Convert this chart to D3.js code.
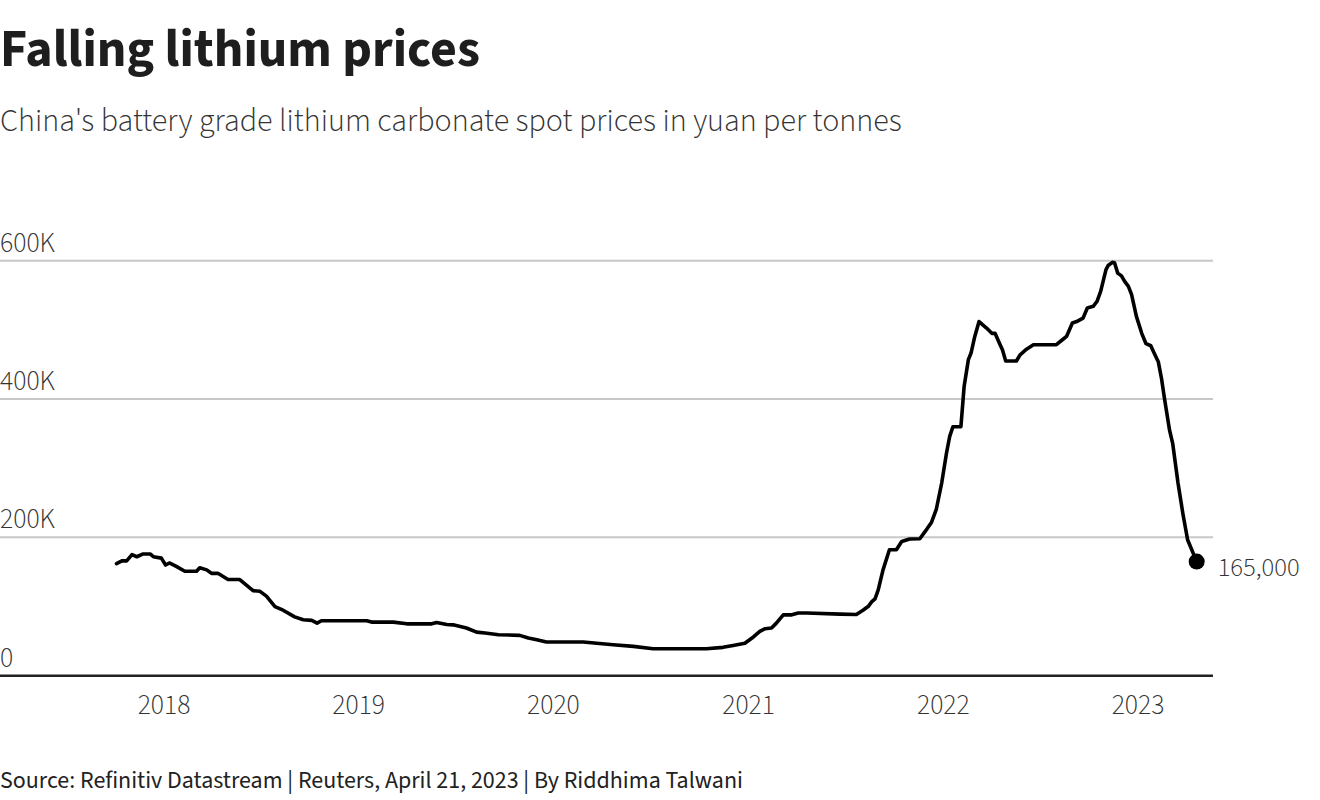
<!DOCTYPE html>
<html>
<head>
<meta charset="utf-8">
<script src="https://cdn.jsdelivr.net/npm/d3@7"></script>
<style>
  html, body { margin: 0; padding: 0; background: #fff; }
  svg { display: block; }
</style>
</head>
<body>
<svg id="chart" width="1320" height="800"></svg>
<script>
// ---- data ----
const dates = [
  "2017-10-04","2017-10-14","2017-10-23","2017-11-02","2017-11-11","2017-11-23","2017-12-06","2017-12-12","2017-12-27",
  "2018-01-04","2018-01-11","2018-01-24","2018-02-09","2018-03-03","2018-03-09","2018-03-22","2018-03-31","2018-04-12",
  "2018-05-01","2018-05-23","2018-06-17","2018-06-30","2018-07-12","2018-07-28","2018-08-09","2018-09-03","2018-09-19",
  "2018-10-05","2018-10-15","2018-10-23","2019-01-16","2019-01-25","2019-03-07","2019-04-01","2019-05-18","2019-05-27",
  "2019-06-15","2019-06-27","2019-07-22","2019-08-10","2019-08-26","2019-09-20","2019-10-30","2019-11-15","2019-12-01",
  "2019-12-19","2020-02-26","2020-04-22","2020-05-30","2020-07-06","2020-10-14","2020-11-14","2020-12-03","2020-12-25",
  "2021-01-10","2021-01-22","2021-02-01","2021-02-13","2021-02-22","2021-03-07","2021-03-23","2021-04-04","2021-04-20",
  "2021-06-21","2021-07-22","2021-08-04","2021-08-13","2021-08-20","2021-08-26","2021-09-01","2021-09-10","2021-09-22",
  "2021-10-05","2021-10-15","2021-10-30","2021-11-18","2021-11-28","2021-12-10","2021-12-19","2021-12-29","2022-01-07",
  "2022-01-13","2022-01-19","2022-02-03","2022-02-09","2022-02-17","2022-02-22","2022-03-01","2022-03-09","2022-03-23",
  "2022-04-02","2022-04-08","2022-04-16","2022-04-22","2022-04-28","2022-05-18","2022-05-25","2022-06-06","2022-06-19",
  "2022-08-01","2022-08-14","2022-08-20","2022-08-31","2022-09-08","2022-09-20","2022-09-28","2022-10-09","2022-10-16",
  "2022-10-23","2022-11-02","2022-11-06","2022-11-14","2022-11-18","2022-11-24","2022-12-01","2022-12-07","2022-12-14",
  "2022-12-20","2022-12-29","2023-01-08","2023-01-16","2023-01-25","2023-01-31","2023-02-08","2023-02-14","2023-02-20",
  "2023-03-01","2023-03-07","2023-03-17","2023-03-26","2023-04-04","2023-04-21"
];
const prices = [
  162000,166000,166000,175000,172000,176000,176000,172000,170000,
  160000,163000,158000,151000,151000,156000,153000,148000,148000,
  139000,139000,123000,122000,115000,100000,96000,85000,81000,
  80000,76000,79500,79500,77500,77500,75000,75000,77000,
  74000,73500,69000,63000,61700,59300,58300,54500,52000,
  48700,48700,44800,42400,39000,39000,41000,43800,47000,
  56000,64000,68000,69000,76000,88000,88000,90600,90600,
  89000,88500,95000,100000,107000,111000,124000,153000,182000,
  182000,194000,197600,198000,208600,222000,241000,278600,322000,
  346000,360000,360000,418000,457000,466500,490500,512000,502600,
  495000,495000,481000,471000,455000,455000,464000,472000,478500,
  478500,486800,490500,510000,512000,517000,531600,534000,541000,
  555600,587000,593000,597600,597000,582000,578000,570000,563000,
  551000,519500,495000,480000,477000,467000,454000,430000,399000,
  355600,336000,278600,235000,196600,165000
];
const yTicks = [0, 200000, 400000, 600000];
const yTickLabels = ["0", "200K", "400K", "600K"];
const xTickYears = [2018, 2019, 2020, 2021, 2022, 2023];
const lastLabel = "165,000";
const title = "Falling lithium prices";
const subtitle = "China's battery grade lithium carbonate spot prices in yuan per tonnes";
const footer = "Source: Refinitiv Datastream | Reuters, April 21, 2023 | By Riddhima Talwani";

// ---- drawing ----
const svg = d3.select("#chart");
const FONT = "'Source Sans Pro','Source Sans 3',Lato,'Open Sans',sans-serif";
const parse = d3.timeParse("%Y-%m-%d");
const data = dates.map((d, i) => ({ date: parse(d), value: prices[i] }));

const x = d3.scaleTime()
  .domain([new Date(2018, 0, 1), new Date(2023, 0, 1)])
  .range([164, 1138]);
const y = d3.scaleLinear().domain([0, 600000]).range([675.7, 260.7]);

function fit(sel, target) {
  const w = sel.node().getComputedTextLength();
  const fs = parseFloat(sel.attr("font-size"));
  sel.attr("font-size", fs * target / w);
}

// title & subtitle
const t = svg.append("text").attr("x", 0).attr("y", 66)
  .attr("font-family", FONT).attr("font-weight", 700).attr("font-size", 50)
  .attr("fill", "#1e1e1e").text(title);
fit(t, 480);
const st = svg.append("text").attr("x", 0).attr("y", 131)
  .attr("font-family", FONT).attr("font-weight", 300).attr("font-size", 28)
  .attr("fill", "#333").text(subtitle);
fit(st, 902);

// gridlines
const grid = svg.append("g");
grid.selectAll("line").data(yTicks.filter(d => d > 0)).join("line")
  .attr("x1", 0).attr("x2", 1213)
  .attr("y1", d => y(d)).attr("y2", d => y(d))
  .attr("stroke", "#c8c8c8").attr("stroke-width", 2);
grid.append("line").attr("x1", 0).attr("x2", 1213)
  .attr("y1", y(0)).attr("y2", y(0))
  .attr("stroke", "#222").attr("stroke-width", 2.5);

// y labels
const yl = svg.append("g").selectAll("text").data(yTicks).join("text")
  .attr("x", 0).attr("y", d => y(d) - 9)
  .attr("font-family", FONT).attr("font-weight", 300).attr("font-size", 25)
  .attr("fill", "#333").text((d, i) => yTickLabels[i]);
fit(d3.select(yl.nodes()[3]), 55);
const yfs = d3.select(yl.nodes()[3]).attr("font-size");
yl.attr("font-size", yfs);

// x labels
const xl = svg.append("g").selectAll("text").data(xTickYears).join("text")
  .attr("x", d => x(new Date(d, 0, 1))).attr("y", 714)
  .attr("text-anchor", "middle")
  .attr("font-family", FONT).attr("font-weight", 300).attr("font-size", 25)
  .attr("fill", "#333").text(d => d);
fit(d3.select(xl.nodes()[0]), 52.7);
xl.attr("font-size", d3.select(xl.nodes()[0]).attr("font-size"));

// line
const line = d3.line().x(d => x(d.date)).y(d => y(d.value)).curve(d3.curveLinear);
svg.append("path").datum(data)
  .attr("d", line).attr("fill", "none")
  .attr("stroke", "#000").attr("stroke-width", 3.6)
  .attr("stroke-linejoin", "round").attr("stroke-linecap", "round");

// last point
const last = data[data.length - 1];
svg.append("circle").attr("cx", x(last.date)).attr("cy", y(last.value))
  .attr("r", 8).attr("fill", "#000");
const ll = svg.append("text").attr("x", x(last.date) + 21).attr("y", y(last.value) + 14)
  .attr("font-family", FONT).attr("font-weight", 300).attr("font-size", 25)
  .attr("fill", "#333").text(lastLabel);
fit(ll, 82);

// footer
const ft = svg.append("text").attr("x", 0).attr("y", 788)
  .attr("font-family", FONT).attr("font-weight", 400).attr("font-size", 22)
  .attr("fill", "#222").text(footer);
fit(ft, 743);
</script>
</body>
</html>
